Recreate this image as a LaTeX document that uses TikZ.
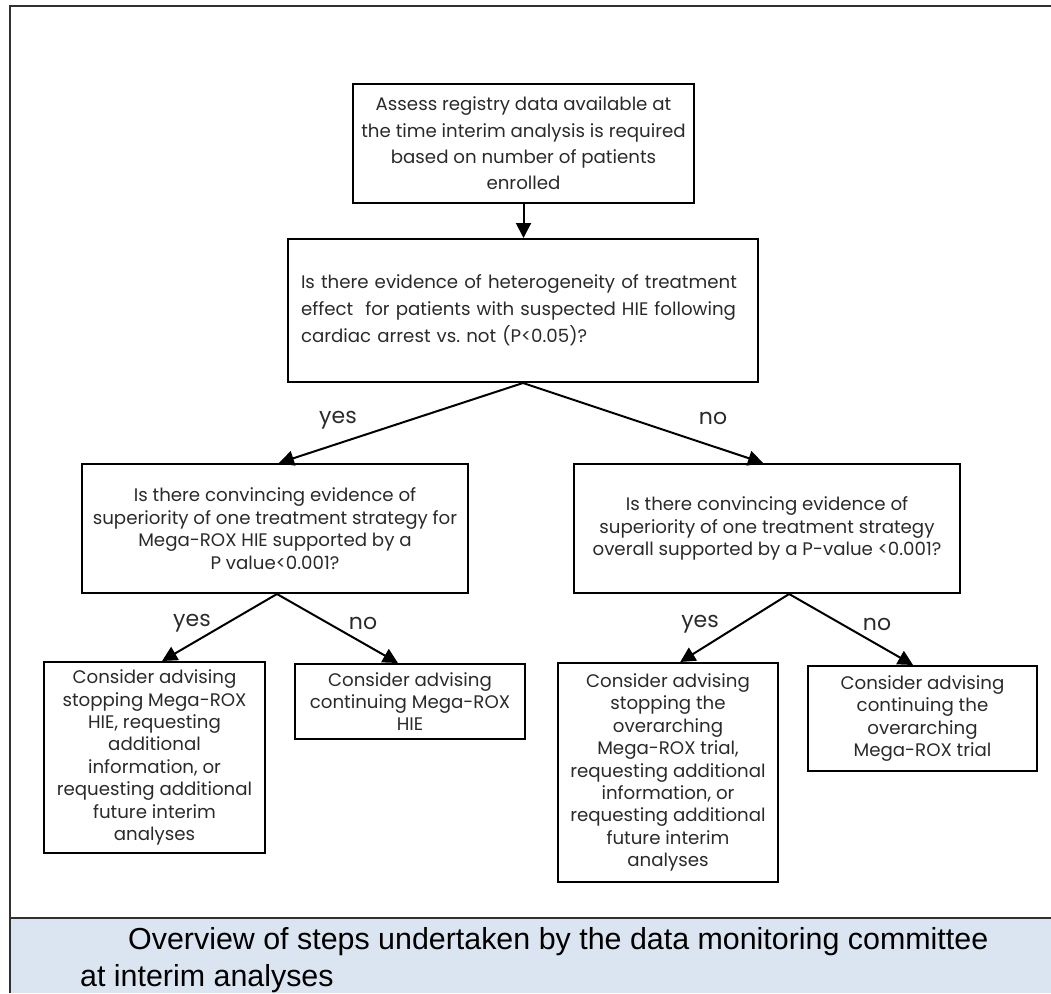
\documentclass[tikz,border=0pt]{standalone}
\usepackage{fontspec}
\setmainfont{Poppins}
\newfontfamily\capfont{Liberation Sans}
\usetikzlibrary{arrows.meta,calc}
\definecolor{bandblue}{HTML}{DBE5F1}
\definecolor{txt}{HTML}{2A2A2A}
\definecolor{framecol}{HTML}{303030}
\begin{document}
\begin{tikzpicture}[x=1pt,y=-1pt,
  box/.style={draw=black, line width=2pt, inner sep=0pt, align=center, text=txt,
    font=\fontsize{18.2}{22.4}\selectfont},
  conn/.style={line width=2pt, -{Triangle[length=15pt,width=15pt]}},
  lbl/.style={font=\fontsize{22}{26}\selectfont, text=txt, inner sep=0pt},
  captxt/.style={anchor=base west, inner sep=0pt, font=\capfont\fontsize{30.4}{36}\selectfont}]
\useasboundingbox (0,0) rectangle (1051,993);
% frame and caption band
\fill[bandblue] (10,918) rectangle (1051,993);
\draw[framecol, line width=1.5pt] (1051,6) -- (10,6) -- (10,993);
\draw[framecol, line width=1.5pt] (10,918) -- (1051,918);
% boxes
\node[box, minimum width=341pt, minimum height=119pt, font=\fontsize{18.2}{26.3}\selectfont] (A) at (523.5,143.5)
  {Assess registry data available at\\the time interim analysis is required\\based on number of patients\\enrolled};
\node[box, minimum width=470pt, minimum height=143pt, text width=444pt, align=left, font=\fontsize{18.2}{27}\selectfont] (B) at (523,310.5)
  {Is there evidence of heterogeneity of treatment\\effect\ \ for patients with suspected HIE following\\cardiac arrest vs.\ not (P<0.05)?};
\node[box, minimum width=386pt, minimum height=129pt, font=\fontsize{18.2}{22.7}\selectfont] (LM) at (275,528.5)
  {Is there convincing evidence of\\superiority of one treatment strategy for\\Mega-ROX HIE supported by a\\P value<0.001?};
\node[box, minimum width=386pt, minimum height=129pt, font=\fontsize{18.2}{22.2}\selectfont] (RM) at (767,528.5)
  {Is there convincing evidence of\\superiority of one treatment strategy\\overall supported by a P-value <0.001?};
\node[box, minimum width=221pt, minimum height=191pt] (L1) at (154.5,757.5)
  {Consider advising\\stopping Mega-ROX\\HIE, requesting\\additional\\information, or\\requesting additional\\future interim\\analyses};
\node[box, minimum width=230pt, minimum height=75pt] (L2) at (410,701.5)
  {Consider advising\\continuing Mega-ROX\\HIE};
\node[box, minimum width=220pt, minimum height=219pt] (R1) at (668,772.5)
  {Consider advising\\stopping the\\overarching\\Mega-ROX trial,\\requesting additional\\information, or\\requesting additional\\future interim\\analyses};
\node[box, minimum width=229pt, minimum height=105pt] (R2) at (922.5,718.5)
  {Consider advising\\continuing the\\overarching\\Mega-ROX trial};
% connectors
\draw[conn] (A.south) -- (A.south |- B.north);
\draw[conn] (B.south) -- ($(LM.north west)!0.51!(LM.north east)$);
\draw[conn] (B.south) -- ($(RM.north west)!0.49!(RM.north east)$);
\draw[conn] ($(LM.south west)!0.505!(LM.south east)$) -- ($(L1.north west)!0.534!(L1.north east)$);
\draw[conn] ($(LM.south west)!0.505!(LM.south east)$) -- ($(L2.north west)!0.448!(L2.north east)$);
\draw[conn] ($(RM.south west)!0.557!(RM.south east)$) -- ($(R1.north west)!0.555!(R1.north east)$);
\draw[conn] ($(RM.south west)!0.557!(RM.south east)$) -- ($(R2.north west)!0.459!(R2.north east)$);
% labels
\node[lbl] (yB) at (338,420) {yes};
\node[lbl] (nB) at (713,418) {no};
\node[lbl] (yL) at (192,623) {yes};
\node[lbl] (nL) at (363,623) {no};
\node[lbl] (yR) at (700,624) {yes};
\node[lbl] (nR) at (877,624) {no};
% caption
\node[captxt] (cap1) at (128,949) {Overview of steps undertaken by the data monitoring committee};
\node[captxt] (cap2) at (80,986) {at interim analyses};
\end{tikzpicture}
\end{document}
